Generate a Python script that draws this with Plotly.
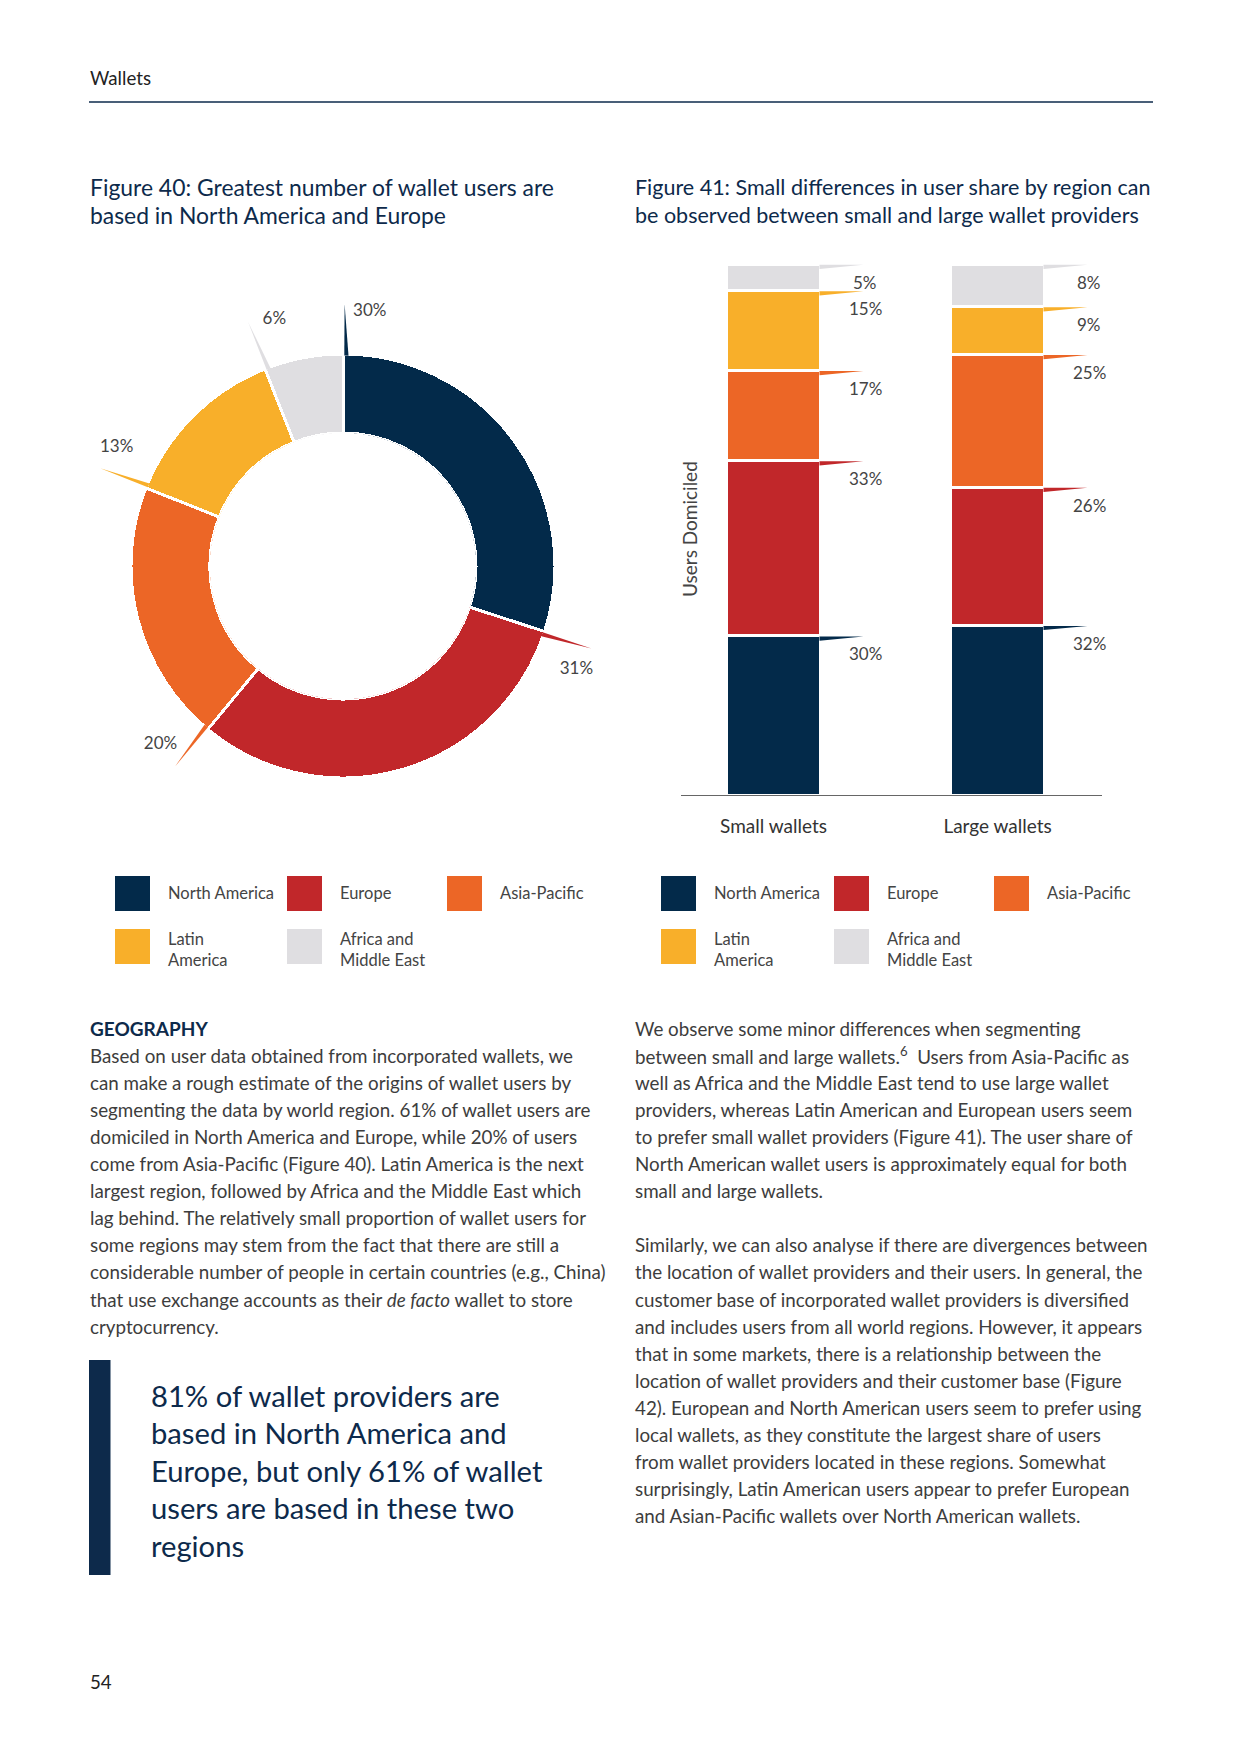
import numpy as np
import plotly.graph_objects as go

# ---------------- data ----------------
regions = ["North America", "Europe", "Asia-Pacific", "Latin America", "Africa and Middle East"]
legend_labels = ["North America", "Europe", "Asia-Pacific", "Latin<br>America", "Africa and<br>Middle East"]
colors = ["#032a4a", "#c1272a", "#ec6626", "#f8af2a", "#dfdee1"]
donut_share = [30, 31, 20, 13, 6]
wallet_types = ["Small wallets", "Large wallets"]
small_share = [30, 33, 17, 15, 5]
large_share = [32, 26, 25, 9, 8]

W, H = 1240, 1754
OFF = 8  # page body margin of the browser
NAVY = "#0d2a4b"
GREY_TXT = "#3d3d3d"
FONT = "Lato"


def px(x):
    return (x - OFF) / W


def py(y):
    return 1 - (y - OFF) / H


fig = go.Figure()
annotations = []
shapes = []


def txt(x, y, s, size, color=GREY_TXT, anchor="left", **kw):
    d = dict(x=px(x), y=py(y), xref="paper", yref="paper", text=s, showarrow=False,
             xanchor=anchor, yanchor="middle", align="left",
             font=dict(family=FONT, size=size, color=color))
    d.update(kw)
    annotations.append(d)


# ---------------- donut (Figure 40) ----------------
cum = np.concatenate([[0], np.cumsum(donut_share)[:-1]])
theta_start = cum * 3.6
theta_mid = (cum + np.array(donut_share) / 2) * 3.6
fig.add_trace(go.Barpolar(
    r=[1] * len(donut_share), theta=theta_mid, width=[v * 3.6 for v in donut_share], base=0,
    marker=dict(color=colors, line=dict(color="white", width=3)),
    subplot="polar", showlegend=False, hoverinfo="skip"))

SPIKE_R = 1.63
for i, ts in enumerate(theta_start):
    fig.add_trace(go.Scatterpolar(
        r=[0.98, SPIKE_R, 0.98, 0.98], theta=[ts + 0.35, ts + 0.35, ts + 1.5, ts + 0.35],
        fill="toself", fillcolor=colors[i], mode="lines", line=dict(width=0, color=colors[i]),
        subplot="polar", showlegend=False, hoverinfo="skip"))

fig.add_trace(go.Scatterpolar(
    r=[1.55] * len(donut_share), theta=theta_start + 6.0, mode="text",
    text=[f"{v}%" for v in donut_share], textfont=dict(family=FONT, size=17, color="#444444"),
    subplot="polar", showlegend=False, hoverinfo="skip", cliponaxis=False))

# ---------------- stacked bars (Figure 41) ----------------
xpos = [0, 1]
for i, reg in enumerate(regions):
    fig.add_trace(go.Bar(
        x=xpos, y=[small_share[i], large_share[i]], width=0.42, name=reg,
        marker=dict(color=colors[i], line=dict(color="white", width=3)),
        showlegend=False, hoverinfo="skip", xaxis="x", yaxis="y"))

for j, shares in enumerate([small_share, large_share]):
    tops = np.cumsum(shares)
    for i, v in enumerate(shares):
        top = tops[i] - 0.15
        xr = xpos[j] + 0.205
        fig.add_trace(go.Scatter(
            x=[xr, xr + 0.196, xr, xr], y=[top, top, top - 0.8, top], fill="toself",
            fillcolor=colors[i], mode="lines", line=dict(width=0, color=colors[i]),
            showlegend=False, hoverinfo="skip", xaxis="x", yaxis="y"))
        annotations.append(dict(x=xpos[j] + 0.41, y=tops[i], xref="x", yref="y", text=f"{v}%",
                                showarrow=False, xanchor="center", yanchor="middle", yshift=-18,
                                font=dict(family=FONT, size=17, color="#444444")))

txt(689, 529, "Users Domiciled", 19, "#444444", anchor="center", textangle=-90)

# ---------------- legends ----------------
def legend(col_x, top_y):
    rows = [[0, 1, 2], [3, 4]]
    for r, idxs in enumerate(rows):
        for c, idx in enumerate(idxs):
            x0 = col_x[c]
            y0 = top_y + r * 53
            shapes.append(dict(type="rect", xref="paper", yref="paper", x0=px(x0), x1=px(x0 + 35),
                               y0=py(y0 + 35), y1=py(y0), fillcolor=colors[idx], line=dict(width=0)))
            txt(x0 + 51, y0 + 17 + (3 if r else 0), legend_labels[idx], 16.5, "#444444")


legend([115, 287, 447], 876)
legend([661, 834, 994], 876)

# ---------------- page text ----------------
txt(88, 78, "Wallets", 18.7, "#222222")
shapes.append(dict(type="line", xref="paper", yref="paper", x0=px(89), x1=px(1153), y0=py(102), y1=py(102),
                   line=dict(color=NAVY, width=1.5)))

txt(88, 187, "Figure 40: Greatest number of wallet users are", 22.9, NAVY)
txt(88, 215, "based in North America and Europe", 22.9, NAVY)
txt(633, 187, "Figure 41: Small differences in user share by region can", 21.5, NAVY)
txt(633, 215, "be observed between small and large wallet providers", 21.5, NAVY)

LS = 27.1
BODY = 18.8
txt(88, 1028, "<b>GEOGRAPHY</b>", 19, NAVY)
left_lines = [
    "Based on user data obtained from incorporated wallets, we",
    "can make a rough estimate of the origins of wallet users by",
    "segmenting the data by world region. 61% of wallet users are",
    "domiciled in North America and Europe, while 20% of users",
    "come from Asia-Pacific (Figure 40). Latin America is the next",
    "largest region, followed by Africa and the Middle East which",
    "lag behind. The relatively small proportion of wallet users for",
    "some regions may stem from the fact that there are still a",
    "considerable number of people in certain countries (e.g., China)",
    "that use exchange accounts as their <i>de facto</i> wallet to store",
    "cryptocurrency.",
]
for k, s in enumerate(left_lines):
    txt(88, 1028 + (k + 1) * LS, s, BODY)

right_lines = [
    "We observe some minor differences when segmenting",
    "between small and large wallets.<sup>6</sup>  Users from Asia-Pacific as",
    "well as Africa and the Middle East tend to use large wallet",
    "providers, whereas Latin American and European users seem",
    "to prefer small wallet providers (Figure 41). The user share of",
    "North American wallet users is approximately equal for both",
    "small and large wallets.",
    "",
    "Similarly, we can also analyse if there are divergences between",
    "the location of wallet providers and their users. In general, the",
    "customer base of incorporated wallet providers is diversified",
    "and includes users from all world regions. However, it appears",
    "that in some markets, there is a relationship between the",
    "location of wallet providers and their customer base (Figure",
    "42). European and North American users seem to prefer using",
    "local wallets, as they constitute the largest share of users",
    "from wallet providers located in these regions. Somewhat",
    "surprisingly, Latin American users appear to prefer European",
    "and Asian-Pacific wallets over North American wallets.",
]
for k, s in enumerate(right_lines):
    if s:
        txt(633, 1028 + k * LS, s, BODY)

shapes.append(dict(type="rect", xref="paper", yref="paper", x0=px(89), x1=px(110.5), y0=py(1575), y1=py(1360),
                   fillcolor=NAVY, line=dict(width=0)))
quote_lines = [
    "81% of wallet providers are",
    "based in North America and",
    "Europe, but only 61% of wallet",
    "users are based in these two",
    "regions",
]
for k, s in enumerate(quote_lines):
    txt(149, 1395 + k * 37.5, s, 29.2, NAVY)

txt(88, 1682, "54", 18.7, "#222222")

# ---------------- layout ----------------
fig.update_layout(
    width=W, height=H, margin=dict(l=0, r=0, t=0, b=0),
    paper_bgcolor="white", plot_bgcolor="white",
    font=dict(family=FONT, color=GREY_TXT),
    barmode="stack", showlegend=False,
    polar=dict(
        domain=dict(x=[px(52), px(634)], y=[py(857), py(275)]),
        hole=133 / 291, bgcolor="rgba(0,0,0,0)",
        radialaxis=dict(range=[0, 2], visible=False, showgrid=False, showline=False, showticklabels=False, ticks=""),
        angularaxis=dict(rotation=90, direction="clockwise", visible=False, showgrid=False,
                         showline=False, showticklabels=False, ticks=""),
    ),
    xaxis=dict(domain=[px(681), px(1102)], range=[-0.413, 1.466], tickvals=xpos, ticktext=wallet_types,
               showline=True, linecolor="#666666", linewidth=1, showgrid=False, zeroline=False, ticks="",
               tickfont=dict(family=FONT, size=19, color="#333333"), ticklabelstandoff=14, fixedrange=True),
    yaxis=dict(domain=[py(795), py(264)], range=[0, 100], visible=False, showgrid=False, zeroline=False,
               fixedrange=True),
    annotations=annotations, shapes=shapes,
)

fig.write_html("out.html")
